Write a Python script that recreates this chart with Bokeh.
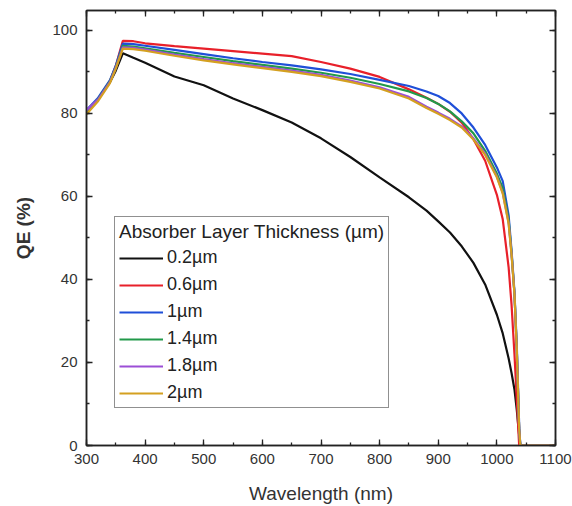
from bokeh.plotting import figure
from bokeh.models import LinearAxis, Range1d, FixedTicker
from bokeh.embed import file_html
from bokeh.resources import INLINE

wavelength = [300, 320, 340, 350, 362, 380, 400, 450, 500, 550, 600, 650, 700, 750, 800,
              850, 880, 900, 920, 940, 960, 980, 1000, 1010, 1020, 1025, 1030, 1034, 1038, 1040, 1100]

qe_02 = [80.5, 83.5, 87.5, 90.3, 94.5, 93.4, 92.2, 88.9, 86.8, 83.6, 80.8, 77.8, 74.0, 69.5, 64.6,
         59.8, 56.6, 54.0, 51.3, 48.0, 44.0, 38.8, 31.5, 27.0, 21.0, 17.5, 13.5, 8.5, 2.5, 0, 0]
qe_06 = [80.5, 83.5, 87.8, 91.5, 97.5, 97.4, 96.9, 96.2, 95.6, 95.0, 94.4, 93.8, 92.4, 90.8, 88.8,
         85.8, 83.8, 82.3, 80.4, 77.8, 73.8, 68.6, 60.4, 54.5, 43.0, 34.0, 22.0, 11.0, 0, 0, 0]
qe_1 = [80.8, 83.8, 88.0, 91.5, 96.8, 96.7, 96.3, 95.3, 94.3, 93.3, 92.4, 91.6, 90.6, 89.5, 88.1,
        86.6, 85.3, 84.2, 82.5, 80.0, 76.6, 72.4, 67.0, 63.7, 55.5, 47.0, 37.0, 24.0, 5.0, 0, 0]
qe_14 = [80.5, 83.5, 87.8, 91.2, 96.3, 96.1, 95.7, 94.6, 93.6, 92.6, 91.7, 90.8, 89.8, 88.6, 87.1,
         85.3, 83.7, 82.3, 80.5, 78.1, 75.2, 71.0, 65.5, 62.0, 54.5, 46.5, 36.5, 23.0, 4.0, 0, 0]
qe_18 = [80.8, 83.4, 87.6, 91.0, 95.9, 95.8, 95.4, 94.2, 93.1, 92.1, 91.2, 90.3, 89.3, 87.9, 86.3,
         84.0, 81.6, 80.2, 78.7, 76.9, 74.0, 70.3, 64.8, 60.9, 53.7, 46.2, 36.6, 23.0, 4.0, 0, 0]
qe_2 = [79.8, 83.0, 87.3, 90.8, 95.6, 95.5, 95.1, 93.9, 92.8, 91.8, 90.9, 90.0, 89.0, 87.6, 86.0,
        83.6, 81.3, 79.9, 78.4, 76.6, 73.7, 70.0, 64.6, 60.7, 53.5, 46.0, 36.5, 23.0, 4.0, 0, 0]

labels = ["0.2µm", "0.6µm", "1µm", "1.4µm", "1.8µm", "2µm"]
series = [qe_02, qe_06, qe_1, qe_14, qe_18, qe_2]
colors = ["#111111", "#e8202a", "#1f4fd8", "#22994a", "#9b4fd6", "#d4a020"]

x_ticks = [300, 400, 500, 600, 700, 800, 900, 1000, 1100]
y_ticks = [0, 20, 40, 60, 80, 100]

p = figure(width=572, height=506, output_backend="svg", toolbar_location=None,
           x_range=Range1d(300, 1100), y_range=Range1d(0, 104.8),
           min_border_left=86, min_border_right=17, min_border_top=10, min_border_bottom=61)
p.xgrid.visible = False
p.ygrid.visible = False
p.outline_line_color = "#222222"
p.outline_line_width = 1.5
p.background_fill_color = "white"
p.border_fill_color = "white"

for lab, ys, c in zip(labels, series, colors):
    p.line(wavelength, ys, line_color=c, line_width=2.2, legend_label=lab)

font = "Liberation Sans"

def style_axis(ax, show_labels=True):
    ax.axis_line_color = "#222222"
    ax.axis_line_width = 1.5
    ax.major_tick_in = 6
    ax.major_tick_out = 0
    ax.minor_tick_in = 3
    ax.minor_tick_out = 0
    ax.major_tick_line_color = "#222222"
    ax.minor_tick_line_color = "#222222"
    ax.major_tick_line_width = 1.3
    ax.minor_tick_line_width = 1.3
    ax.major_label_text_font = font
    ax.major_label_text_color = "#333333"
    ax.major_label_text_font_size = "15px"
    if not show_labels:
        ax.major_label_text_font_size = "1px"
        ax.major_label_text_color = None
        ax.major_label_standoff = 0
        ax.axis_label = None

p.xaxis.ticker = FixedTicker(ticks=x_ticks, minor_ticks=list(range(300, 1101, 50)))
p.yaxis.ticker = FixedTicker(ticks=y_ticks, minor_ticks=list(range(0, 101, 10)))
style_axis(p.xaxis[0])
style_axis(p.yaxis[0])
p.xaxis.major_label_standoff = 8
p.yaxis.major_label_standoff = 9

p.xaxis.axis_label = "Wavelength (nm)"
p.xaxis.axis_label_text_font = font
p.xaxis.axis_label_text_font_style = "normal"
p.xaxis.axis_label_text_font_size = "19px"
p.xaxis.axis_label_text_color = "#333333"
p.xaxis.axis_label_standoff = 16

p.yaxis.axis_label = "QE (%)"
p.yaxis.axis_label_text_font = font
p.yaxis.axis_label_text_font_style = "bold"
p.yaxis.axis_label_text_font_size = "19px"
p.yaxis.axis_label_text_color = "#333333"
p.yaxis.axis_label_standoff = 15

top_ax = LinearAxis(ticker=FixedTicker(ticks=x_ticks, minor_ticks=list(range(300, 1101, 50))))
style_axis(top_ax, show_labels=False)
p.add_layout(top_ax, "above")
right_ax = LinearAxis(ticker=FixedTicker(ticks=y_ticks, minor_ticks=list(range(0, 101, 10))))
style_axis(right_ax, show_labels=False)
p.add_layout(right_ax, "right")

lg = p.legend[0]
lg.title = "Absorber Layer Thickness (µm)"
lg.title_text_font = font
lg.title_text_font_size = "19px"
lg.title_text_font_style = "normal"
lg.title_text_color = "#222222"
lg.title_standoff = 4
lg.label_text_font = font
lg.label_text_font_size = "18px"
lg.label_text_color = "#222222"
lg.glyph_width = 44
lg.glyph_height = 20
lg.label_height = 20
lg.label_standoff = 4
lg.spacing = 6
lg.padding = 4
lg.margin = 0
lg.border_line_color = "#222222"
lg.border_line_width = 1.5
lg.background_fill_alpha = 1.0
lg.location = (28, 37)

open("out.html", "w").write(file_html(p, INLINE))
